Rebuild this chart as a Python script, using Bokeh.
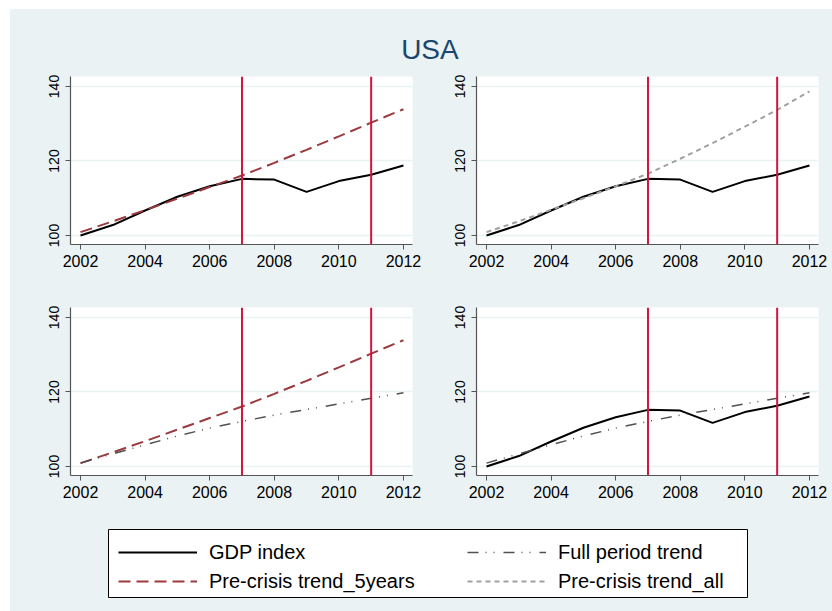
from bokeh.plotting import figure
from bokeh.layouts import column, row
from bokeh.models import Span, Legend, LegendItem, Label, FixedTicker, ColumnDataSource, Spacer
from bokeh.embed import file_html
from bokeh.resources import INLINE

# ---------------- data ----------------
years = [2002, 2003, 2004, 2005, 2006, 2007, 2008, 2009, 2010, 2011, 2012]
gdp_index = [100.0, 102.8, 106.7, 110.4, 113.2, 115.2, 115.0, 111.7, 114.6, 116.3, 118.8]
trend_5years = [100.9, 103.8, 106.8, 109.9, 113.0, 116.1, 119.5, 123.0, 126.6, 130.3, 133.9]
trend_all = [100.9, 103.8, 106.9, 110.0, 113.2, 116.6, 120.6, 124.8, 129.2, 133.7, 138.7]
trend_full = [100.9, 103.4, 105.8, 108.2, 110.3, 112.1, 113.8, 115.3, 116.8, 118.3, 119.8]
crisis_years = [2007, 2011]
x_ticks = [2002, 2004, 2006, 2008, 2010, 2012]
y_ticks = [100, 120, 140]
title_text = "USA"
label_gdp = "GDP index"
label_full = "Full period trend"
label_5y = "Pre-crisis trend_5years"
label_all = "Pre-crisis trend_all"

source = ColumnDataSource(dict(year=years, gdp=gdp_index, t5=trend_5years,
                               tall=trend_all, tfull=trend_full))

BG = "#EAF2F3"
FONT = "Liberation Sans"

styles = {
    "gdp": dict(line_color="black", line_width=2, line_dash="solid"),
    "t5": dict(line_color="#9B3A3F", line_width=2, line_dash="12 6"),
    "tall": dict(line_color="#A0A0A0", line_width=2, line_dash="5 4"),
    "tfull": dict(line_color="#505050", line_width=1.5, line_dash="11 7 1 7 1 9"),
}


def make_panel(keys, left, right, top, bottom):
    p = figure(frame_width=342, frame_height=168,
               x_range=(2001.69, 2012.28), y_range=(97.58, 142.68),
               min_border_left=left, min_border_right=right,
               min_border_top=top, min_border_bottom=bottom,
               toolbar_location=None, output_backend="svg",
               background_fill_color="white", border_fill_color=BG)
    p.outline_line_color = None
    p.xgrid.grid_line_color = None
    p.ygrid.grid_line_color = BG
    p.ygrid.grid_line_width = 1.5
    p.xaxis.ticker = FixedTicker(ticks=x_ticks)
    p.yaxis.ticker = FixedTicker(ticks=y_ticks)
    for ax in (p.xaxis, p.yaxis):
        ax.axis_line_color = "#555555"
        ax.axis_line_width = 1.2
        ax.major_tick_line_color = "#555555"
        ax.major_tick_out = 5
        ax.major_tick_in = 0
        ax.minor_tick_line_color = None
        ax.major_label_text_font = FONT
        ax.major_label_text_color = "black"
    p.xaxis.major_label_text_font_size = "16px"
    p.yaxis.major_label_text_font_size = "14px"
    p.yaxis.major_label_orientation = "vertical"
    p.xaxis.major_label_standoff = 5
    p.yaxis.major_label_standoff = 6
    for k in keys:
        p.line("year", k, source=source, **styles[k])
    for yr in crisis_years:
        p.add_layout(Span(location=yr, dimension="height",
                          line_color="#D1153E", line_width=2))
    return p


tl = make_panel(["gdp", "t5"], 60, 14, 8, 35)
tr = make_panel(["gdp", "tall"], 50, 14, 8, 35)
bl = make_panel(["t5", "tfull"], 60, 14, 28, 35)
br = make_panel(["gdp", "tfull"], 50, 14, 28, 35)

# title
tfig = figure(width=822, height=59, x_range=(0, 1), y_range=(0, 1),
              x_axis_type=None, y_axis_type=None, min_border=0,
              toolbar_location=None, output_backend="svg",
              background_fill_color=BG, border_fill_color=BG)
tfig.outline_line_color = None
tfig.grid.visible = False
tfig.add_layout(Label(x=0.503, y=0.322, text=title_text, text_align="center",
                      text_baseline="alphabetic", text_font=FONT,
                      text_font_size="28px", text_color="#1A476F"))

# legend (the frame of this figure is the legend box)
lfig = figure(frame_width=639, frame_height=68, x_range=(0, 1), y_range=(0, 1),
              x_axis_type=None, y_axis_type=None,
              min_border_left=98, min_border_right=85,
              min_border_top=19, min_border_bottom=14,
              toolbar_location=None, output_backend="svg",
              background_fill_color="white", border_fill_color=BG)
lfig.outline_line_color = "black"
lfig.outline_line_width = 1
lfig.grid.visible = False
r_gdp = lfig.line("year", "gdp", source=source, **styles["gdp"])
r_t5 = lfig.line("year", "t5", source=source, **styles["t5"])
r_tall = lfig.line("year", "tall", source=source, **styles["tall"])
r_full = lfig.line("year", "tfull", source=source, **styles["tfull"])
legend = Legend(items=[LegendItem(label=label_gdp, renderers=[r_gdp]),
                       LegendItem(label=label_5y, renderers=[r_t5]),
                       LegendItem(label=label_full, renderers=[r_full]),
                       LegendItem(label=label_all, renderers=[r_tall])],
                location=(10, 4), ncols=2, margin=0,
                glyph_width=79, glyph_height=24, label_standoff=12,
                padding=8, spacing=5, label_width=253,
                label_text_font=FONT, label_text_font_size="20px",
                label_text_color="black",
                border_line_color=None, background_fill_alpha=0.0)
lfig.add_layout(legend)

content = column(tfig, row(tl, tr), row(bl, br), lfig)
content.background = BG
root = row(Spacer(width=10, height=611),
           column(Spacer(width=822, height=9), content))

open("out.html", "w").write(file_html(root, INLINE))
